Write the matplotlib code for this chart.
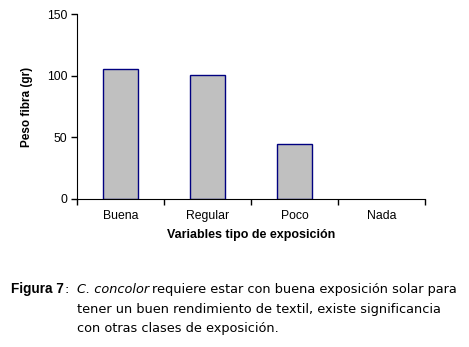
import numpy as np
import matplotlib.pyplot as plt

categorias = ["Buena", "Regular", "Poco", "Nada"]
peso_fibra = [106, 101, 44.5, 0]

W, H = 469, 347
fig = plt.figure(figsize=(W / 100, H / 100), dpi=100)
ax = fig.add_axes([77 / W, 1 - 199 / H, (425 - 77) / W, (199 - 14.5) / H])

x = np.arange(len(categorias))
bars = ax.bar(x, peso_fibra, width=0.4, color="#C0C0C0", edgecolor="#000080", linewidth=1)
for b, v in zip(bars, peso_fibra):
    if v == 0:
        b.set_linewidth(0)

ax.set_xlim(-0.5, len(categorias) - 0.5)
ax.set_ylim(0, 150)
ax.set_yticks([0, 50, 100, 150])
ax.set_xticks(x)
ax.set_xticklabels(categorias)
ax.set_xticks(np.arange(len(categorias) + 1) - 0.5, minor=True)
ax.tick_params(axis="x", which="major", length=0, pad=8)
ax.tick_params(axis="x", which="minor", length=4, width=1, direction="out")
ax.tick_params(axis="y", length=4, width=1, direction="out", pad=3)
for lab in ax.get_xticklabels() + ax.get_yticklabels():
    lab.set_fontfamily("Liberation Sans")
    lab.set_fontsize(8.8)

ax.spines["top"].set_visible(False)
ax.spines["right"].set_visible(False)

ax.set_ylabel("Peso fibra (gr)", fontfamily="Liberation Sans", fontweight="bold", fontsize=8.5, labelpad=10)
ax.set_xlabel("Variables tipo de exposición", fontfamily="Liberation Sans", fontweight="bold", fontsize=9, labelpad=5)

# caption, placed piece by piece
r = fig.canvas.get_renderer()


def put(px, py, s, family="DejaVu Sans", size=9.3, **kw):
    t = fig.text(px / W, 1 - py / H, s, fontfamily=family, fontsize=size, va="baseline", **kw)
    return px + t.get_window_extent(r).width


xe = put(11, 293, "Figura 7", family="Liberation Sans", size=9.8, fontweight="bold")
put(xe + 1, 293, ":")
xe = put(77, 293, "C. concolor", style="italic")
put(xe + 3, 293, "requiere estar con buena exposición solar para")
put(77, 313, "tener un buen rendimiento de textil, existe significancia")
put(77, 332, "con otras clases de exposición.")

fig.savefig("out.png", dpi=100)
